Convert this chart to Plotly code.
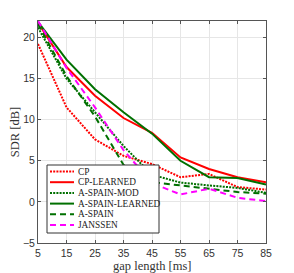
import plotly.graph_objects as go

gap = [5, 15, 25, 35, 45, 55, 65, 75, 85]
cp = [19.2, 11.5, 7.6, 5.6, 4.6, 3.0, 3.4, 1.8, 1.5]
cp_learned = [21.8, 16.4, 12.9, 10.2, 8.4, 5.4, 4.0, 3.0, 2.4]
aspain_mod = [21.2, 15.0, 10.9, 6.8, 3.3, 2.35, 2.0, 1.7, 1.1]
aspain_learned = [21.9, 17.3, 13.7, 10.9, 8.3, 5.0, 3.0, 2.9, 2.1]
aspain = [21.6, 15.3, 10.4, 4.5, 2.4, 2.0, 1.6, 1.2, 1.0]
janssen = [22.0, 16.3, 11.5, 6.3, 2.3, 0.9, 1.6, 0.5, 0.1]

series_names = ["CP", "CP-LEARNED", "A-SPAIN-MOD", "A-SPAIN-LEARNED", "A-SPAIN", "JANSSEN"]
series_values = [cp, cp_learned, aspain_mod, aspain_learned, aspain, janssen]

xticks = [5, 15, 25, 35, 45, 55, 65, 75, 85]
yticks = [-5, 0, 5, 10, 15, 20]

RED = "#ff0000"
GREEN = "#007000"
MAG = "#ff00ff"
DOT = "2px,1.2px"
DASH = "6px,4px"
styles = [(RED, DOT), (RED, "solid"), (GREEN, DOT), (GREEN, "solid"), (GREEN, DASH), (MAG, DASH)]

fig = go.Figure()
for name, vals, (col, dash) in zip(series_names, series_values, styles):
    fig.add_trace(go.Scatter(x=gap, y=vals, mode="lines", name=name, showlegend=False,
                             line=dict(color=col, width=2, dash=dash)))

# Manual compact legend (MATLAB style); pixel positions in page coordinates
PLOT_L, PLOT_R, PLOT_T, PLOT_B = 38, 266, 21, 243
def px(xp):
    return (xp - PLOT_L) / (PLOT_R - PLOT_L)
def py(yp):
    return (PLOT_B - yp) / (PLOT_B - PLOT_T)

shapes = [dict(type="rect", xref="x domain", yref="y domain",
               x0=px(47), x1=px(159), y0=py(233), y1=py(165),
               fillcolor="white", line=dict(color="#333333", width=1), layer="above")]
annotations = []
for i, (name, (col, dash)) in enumerate(zip(series_names, styles)):
    yc = 171.5 + i * 10.7
    shapes.append(dict(type="line", xref="x domain", yref="y domain",
                       x0=px(50), x1=px(74), y0=py(yc), y1=py(yc),
                       line=dict(color=col, width=2, dash=dash), layer="above"))
    annotations.append(dict(xref="x domain", yref="y domain", x=px(75.5), y=py(yc),
                            text=name, showarrow=False, xanchor="left", yanchor="middle",
                            font=dict(family="Liberation Serif, Times New Roman", size=9.3, color="#222222")))

annotations.append(dict(xref="x domain", yref="y domain", x=px(152), y=py(265.5),
                        text="gap length [ms]", showarrow=False, xanchor="center", yanchor="middle",
                        font=dict(family="Liberation Serif, Times New Roman", size=12.5, color="#333333")))

axis_common = dict(showline=True, linecolor="#555555", linewidth=1, mirror="ticks",
                   ticks="inside", ticklen=3, tickcolor="#555555", automargin=False,
                   showgrid=True, gridcolor="#e6e6e6", gridwidth=1, zeroline=False,
                   tickfont=dict(family="Liberation Sans, Arial", size=10.5, color="#333333"))

# page body has an 8px margin, so the figure is 8px smaller and margins compensate
fig.update_layout(
    width=286, height=265,
    margin=dict(l=30, r=28, t=13, b=30),
    paper_bgcolor="white", plot_bgcolor="white",
    xaxis=dict(range=[5, 85], tickvals=xticks, **axis_common),
    yaxis=dict(range=[-5, 22], tickvals=yticks,
               title=dict(text="SDR [dB]", standoff=2,
                          font=dict(family="Liberation Serif, Times New Roman", size=12.5, color="#333333")),
               **axis_common),
    shapes=shapes,
    annotations=annotations,
    showlegend=False,
)

fig.write_html("out.html")
